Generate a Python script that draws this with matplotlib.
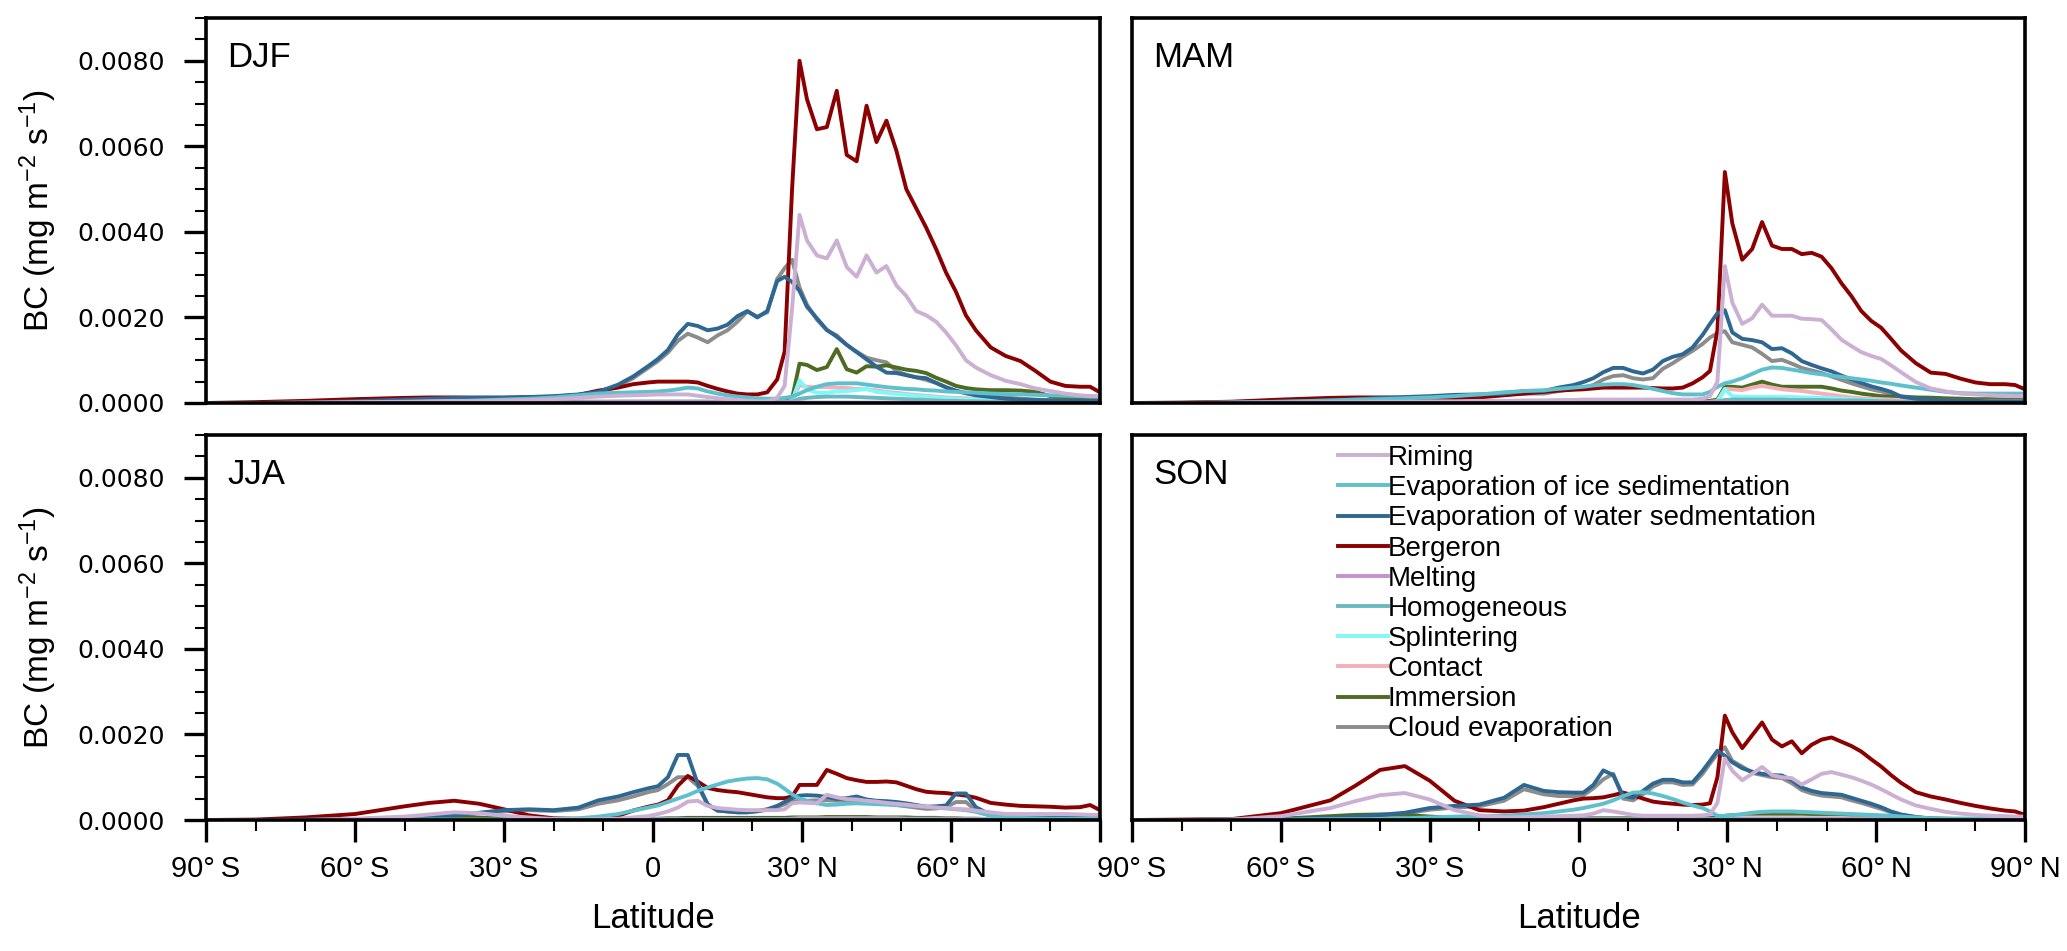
import matplotlib
matplotlib.use("Agg")
import matplotlib.pyplot as plt
from matplotlib.ticker import MultipleLocator, FormatStrFormatter

plt.rcParams["font.family"] = ["Liberation Sans", "DejaVu Sans"]
plt.rcParams["mathtext.default"] = "regular"

# latitude grid (deg), values below are in 1e-4 mg m-2 s-1
LAT = [-90, -80, -70, -60, -50, -45, -40, -35, -30, -25, -20, -15,
       -11, -7, -4, -1, 1, 3, 5, 7, 9, 11, 13, 15, 17, 19, 21, 23, 25,
       26.5, 28, 29.5,
       31, 33, 35, 37, 39, 41, 43, 45, 47, 49, 51, 53, 55, 57, 59, 61, 63, 65,
       68, 71, 74, 77, 80, 83, 86, 88, 90]

PROCESSES = ["Riming", "Evaporation of ice sedimentation",
             "Evaporation of water sedmentation", "Bergeron", "Melting",
             "Homogeneous", "Splintering", "Contact", "Immersion",
             "Cloud evaporation"]
COLORS = ["#CBB0D3", "#5EC0CD", "#2E6792", "#8B0000", "#C88FD1",
          "#6BB9C0", "#80F8F8", "#F4B0B8", "#4E6B22", "#8C8C8C"]

# ---------------- DJF ----------------
DJF_RIM = [0, 0, 0.1, 0.2, 0.3, 0.4, 0.5, 0.5, 0.6, 0.7, 0.9, 1.2,
           1.5, 1.7, 1.8, 1.9, 2.0, 2.0, 2.0, 2.0, 1.7, 1.4, 1.1, 0.9, 0.7, 0.5, 0.4, 0.4, 1.2,
           4, 22, 44,
           38, 34.5, 33.8, 38, 31.8, 29.5, 34.5, 30.5, 32, 27.5, 25, 21.5, 20.5, 19, 16.5, 13.5, 10, 8.3,
           6.5, 5.2, 4.4, 3.4, 2.8, 2.2, 1.8, 1.6, 1.6]
DJF_EVI = [0, 0, 0, 0.1, 0.2, 0.3, 0.4, 0.6, 0.8, 1.0, 1.3, 1.8,
           2.2, 2.4, 2.5, 2.6, 2.7, 2.9, 3.2, 3.6, 3.4, 2.7, 2.2, 1.8, 1.5, 1.3, 1.1, 1.0, 1.0,
           1.2, 1.5, 2.2,
           3.0, 3.8, 4.4, 4.6, 4.6, 4.6, 4.3, 4.0, 3.7, 3.5, 3.3, 3.2, 3.0, 2.9, 2.7, 2.6, 2.5, 2.4,
           2.2, 2.1, 2.0, 1.9, 1.8, 1.7, 1.6, 1.5, 1.5]
DJF_EVW = [0, 0, 0.1, 0.4, 0.8, 1.0, 1.2, 1.3, 1.3, 1.4, 1.6, 2.0,
           2.6, 4.3, 6.2, 8.6, 10.3, 12.4, 16, 18.5, 18, 17, 17.4, 18.3, 20.3, 21.5, 20.0, 21.5, 28.5,
           29.5, 28.3, 26.2,
           22.5, 19.8, 17.1, 15.5, 13.6, 11.9, 10.2, 8.5, 7.1, 7.0, 6.5, 6.0, 5.8, 4.7, 3.7, 2.9, 2.3, 1.8,
           1.4, 1.0, 0.8, 0.7, 0.6, 0.5, 0.5, 0.5, 0.5]
DJF_BERG = [0, 0.2, 0.5, 0.9, 1.2, 1.3, 1.3, 1.2, 1.2, 1.3, 1.4, 1.9,
            2.9, 3.6, 4.4, 4.8, 5.0, 5.0, 5.0, 5.0, 4.8, 4.0, 3.3, 2.7, 2.2, 2.0, 2.0, 2.5, 5.5,
            12, 50, 80,
            71, 64, 64.5, 73, 58, 56.5, 69.5, 61, 66, 59, 50, 45.5, 41, 36, 30.5, 26, 20.5, 17,
            13, 11, 9.8, 7.5, 5, 4, 3.8, 3.8, 2.5]
DJF_MLT = [0, 0, 0, 0, 0, 0, 0.1, 0.1, 0.1, 0.1, 0.1, 0.1,
           0.2, 0.2, 0.2, 0.2, 0.2, 0.2, 0.2, 0.2, 0.2, 0.2, 0.2, 0.2, 0.2, 0.2, 0.2, 0.2, 0.2,
           0.2, 0.2, 0.2,
           0.1, 0.1, 0.1, 0.1, 0.1, 0.1, 0.1, 0.1, 0.1, 0.1, 0.1, 0.1, 0.1, 0.1, 0.1, 0.1, 0.1, 0.1,
           0, 0, 0, 0, 0, 0, 0, 0, 0]
DJF_HOM = [0, 0, 0, 0, 0, 0, 0, 0, 0.1, 0.1, 0.1, 0.2,
           0.2, 0.3, 0.3, 0.3, 0.3, 0.3, 0.3, 0.3, 0.3, 0.3, 0.2, 0.2, 0.2, 0.2, 0.2, 0.2, 0.2,
           0.2, 0.4, 1.0,
           1.2, 1.4, 1.5, 1.5, 1.5, 1.4, 1.3, 1.2, 1.1, 1.0, 0.9, 0.8, 0.7, 0.6, 0.5, 0.5, 0.4, 0.4,
           0.3, 0.3, 0.3, 0.3, 0.3, 0.3, 0.3, 0.3, 0.3]
DJF_SPL = [0, 0, 0, 0, 0, 0, 0, 0, 0, 0, 0, 0,
           0, 0, 0, 0, 0, 0, 0, 0, 0, 0, 0, 0, 0, 0, 0, 0, 0,
           0, 0.5, 5.3,
           3.2, 2.4, 2.4, 2.7, 2.8, 3.0, 3.3, 2.6, 2.4, 2.1, 1.9, 1.7, 1.5, 1.3, 1.1, 1.0, 0.9, 0.8,
           0.7, 0.6, 0.5, 0.5, 0.4, 0.4, 0.4, 0.4, 0.4]
DJF_CON = [0, 0, 0, 0, 0, 0, 0.1, 0.1, 0.1, 0.1, 0.1, 0.1,
           0.1, 0.1, 0.1, 0.1, 0.1, 0.1, 0.1, 0.1, 0.1, 0.1, 0.1, 0.1, 0.1, 0.1, 0.1, 0.1, 0.1,
           0.1, 0.5, 4.2,
           3.8, 3.7, 3.7, 3.6, 3.5, 3.3, 3.2, 3.0, 2.6, 2.4, 2.1, 1.9, 1.7, 1.5, 1.3, 1.2, 1.1, 1.0,
           0.8, 0.7, 0.6, 0.5, 0.5, 0.5, 0.5, 0.5, 0.5]
DJF_IMM = [0, 0, 0, 0, 0.1, 0.1, 0.1, 0.1, 0.2, 0.2, 0.2, 0.3,
           0.3, 0.3, 0.3, 0.3, 0.3, 0.3, 0.3, 0.3, 0.3, 0.3, 0.2, 0.2, 0.2, 0.2, 0.2, 0.2, 0.2,
           0.3, 1.0, 9.2,
           8.9, 7.7, 8.4, 12.6, 7.9, 7.1, 8.6, 8.5, 8.8, 8.3, 7.8, 7.5, 7.0, 5.9, 5.0, 4.0, 3.5, 3.2,
           3.0, 3.0, 2.9, 2.6, 1.6, 1.1, 0.9, 0.8, 0.8]
DJF_CLD = [0, 0, 0.1, 0.4, 0.8, 1.0, 1.1, 1.2, 1.2, 1.3, 1.5, 1.9,
           2.4, 4.0, 5.8, 8.2, 9.8, 11.8, 14.5, 16.2, 15.3, 14.2, 15.8, 17, 19, 21.4, 20.2, 21.2, 29,
           31.5, 33.5, 27,
           23, 19.5, 17, 15.8, 13.6, 12, 10.6, 10, 9.5, 7.5, 6.6, 6.0, 5.4, 4.7, 3.6, 2.8, 2.3, 1.9,
           1.6, 1.3, 1.0, 0.8, 0.7, 0.6, 0.5, 0.5, 0.5]

# ---------------- MAM ----------------
MAM_RIM = [0, 0, 0.1, 0.1, 0.2, 0.2, 0.3, 0.3, 0.4, 0.4, 0.5, 0.5,
           0.6, 0.6, 0.7, 0.7, 0.8, 0.8, 0.8, 0.8, 0.8, 0.8, 0.8, 0.8, 0.8, 0.8, 0.8, 0.8, 1.0,
           1.6, 5, 32,
           23.5, 18.5, 19.8, 23, 20.4, 20.4, 20.4, 19.7, 19.6, 19.4, 17.2, 14.8, 13.3, 11.9, 11, 10.3, 8.8, 7.2,
           4.9, 3.4, 2.7, 2.2, 2.0, 1.8, 1.7, 1.6, 1.6]
MAM_EVI = [0, 0, 0.1, 0.3, 0.6, 0.8, 0.9, 1.1, 1.3, 1.6, 2.0, 2.5,
           2.8, 3.0, 3.3, 3.6, 3.8, 4.1, 4.3, 4.4, 4.4, 4.2, 3.8, 3.3, 2.8, 2.3, 2.0, 2.0, 2.0,
           2.6, 3.8, 4.6,
           5.0, 5.8, 6.8, 7.8, 8.3, 8.2, 7.8, 7.4, 7.0, 6.7, 6.4, 6.1, 5.8, 5.5, 5.2, 4.8, 4.5, 4.1,
           3.6, 3.1, 2.6, 2.3, 2.2, 2.2, 2.2, 2.2, 2.2]
MAM_EVW = [0, 0, 0.1, 0.3, 0.6, 0.8, 1.2, 1.4, 1.6, 1.9, 2.0, 2.2,
           2.8, 2.8, 3.6, 4.2, 4.9, 5.8, 7.2, 8.2, 8.2, 7.4, 6.9, 7.8, 9.8, 10.8, 11.4, 13, 15.9,
           18.5, 21, 21.7,
           16.5, 15, 14.7, 14.2, 12.6, 12.8, 11.6, 9.8, 8.9, 8.1, 7.4, 6.4, 5.5, 4.7, 3.9, 3.3, 2.6, 1.5,
           1.0, 0.8, 0.6, 0.5, 0.5, 0.4, 0.4, 0.4, 0.4]
MAM_BERG = [0, 0.1, 0.3, 0.8, 1.2, 1.3, 1.3, 1.2, 1.1, 1.1, 1.3, 1.8,
            2.2, 2.6, 2.9, 3.1, 3.2, 3.4, 3.6, 3.6, 3.6, 3.6, 3.6, 3.5, 3.4, 3.4, 3.6, 4.6, 6.0,
            7.5, 17, 54,
            42, 33.5, 36, 42.3, 36.8, 36, 36, 34.8, 35.1, 34.2, 31.5, 28, 25, 21.5, 19.2, 17.6, 15, 12.3,
            9.3, 7.1, 6.8, 5.7, 4.8, 4.4, 4.4, 4.2, 3.2]
MAM_MLT = [0, 0, 0, 0, 0, 0, 0.1, 0.1, 0.1, 0.1, 0.1, 0.1,
           0.2, 0.2, 0.2, 0.2, 0.2, 0.2, 0.2, 0.2, 0.2, 0.2, 0.2, 0.2, 0.2, 0.2, 0.2, 0.2, 0.2,
           0.2, 0.2, 0.2,
           0.1, 0.1, 0.1, 0.1, 0.1, 0.1, 0.1, 0.1, 0.1, 0.1, 0.1, 0.1, 0.1, 0.1, 0.1, 0.1, 0.1, 0.1,
           0, 0, 0, 0, 0, 0, 0, 0, 0]
MAM_HOM = [0, 0, 0, 0, 0, 0, 0.1, 0.1, 0.1, 0.1, 0.1, 0.1,
           0.2, 0.2, 0.2, 0.2, 0.3, 0.3, 0.3, 0.3, 0.3, 0.3, 0.3, 0.3, 0.3, 0.3, 0.3, 0.3, 0.3,
           0.3, 0.4, 0.7,
           0.8, 0.8, 0.8, 0.8, 0.8, 0.8, 0.7, 0.7, 0.7, 0.7, 0.6, 0.6, 0.6, 0.6, 0.5, 0.4, 0.4, 0.3,
           0.3, 0.3, 0.3, 0.3, 0.3, 0.3, 0.3, 0.3, 0.3]
MAM_SPL = [0, 0, 0, 0, 0, 0, 0, 0, 0, 0, 0, 0,
           0, 0, 0, 0, 0, 0, 0, 0, 0, 0, 0, 0, 0, 0, 0, 0, 0,
           0, 0.3, 3.2,
           1.6, 1.4, 1.4, 1.4, 1.4, 1.4, 1.4, 1.3, 1.3, 1.2, 1.1, 1.0, 0.9, 0.8, 0.7, 0.5, 0.4, 0.3,
           0.3, 0.2, 0.2, 0.2, 0.2, 0.2, 0.2, 0.2, 0.2]
MAM_CON = [0, 0, 0, 0, 0, 0, 0.1, 0.1, 0.1, 0.1, 0.1, 0.1,
           0.1, 0.1, 0.1, 0.1, 0.1, 0.1, 0.1, 0.1, 0.1, 0.1, 0.1, 0.1, 0.1, 0.1, 0.1, 0.1, 0.1,
           0.2, 0.5, 3.3,
           3.2, 3.0, 3.6, 4.0, 3.6, 3.2, 3.0, 2.8, 2.5, 2.2, 1.9, 1.6, 1.3, 1.1, 1.0, 0.9, 0.8, 0.7,
           0.6, 0.6, 0.5, 0.5, 0.5, 0.5, 0.5, 0.5, 0.5]
MAM_IMM = [0, 0, 0, 0.1, 0.1, 0.2, 0.2, 0.2, 0.2, 0.3, 0.3, 0.3,
           0.3, 0.3, 0.3, 0.3, 0.3, 0.3, 0.3, 0.3, 0.3, 0.3, 0.3, 0.3, 0.3, 0.3, 0.3, 0.3, 0.4,
           0.5, 0.8, 3.8,
           3.8, 3.6, 4.3, 5.0, 4.3, 3.8, 3.8, 3.8, 3.8, 3.8, 3.4, 2.9, 2.6, 2.2, 1.9, 1.6, 1.5, 1.4,
           1.3, 1.25, 1.1, 1.0, 0.9, 0.9, 0.8, 0.8, 0.8]
MAM_CLD = [0, 0, 0.1, 0.3, 0.5, 0.7, 1.0, 1.2, 1.3, 1.5, 1.6, 2.0,
           2.2, 2.2, 2.8, 3.3, 3.6, 4.2, 5.5, 6.3, 6.5, 5.8, 5.5, 5.8, 8.0, 9.3, 10.8, 12.2, 13.8,
           15.3, 16.3, 16.8,
           14.2, 13.6, 13, 11.5, 9.8, 10.1, 9.2, 8.2, 7.6, 7.0, 6.2, 5.4, 4.6, 3.9, 3.2, 2.7, 2.1, 1.6,
           1.2, 0.9, 0.7, 0.6, 0.5, 0.5, 0.5, 0.5, 0.5]

# ---------------- JJA ----------------
JJA_RIM = [0, 0, 0, 0.3, 0.8, 1.3, 1.8, 1.6, 1.0, 0.6, 0.2, 0.2,
           0.2, 0.3, 0.6, 0.9, 1.4, 2.0, 2.9, 4.3, 4.5, 3.3, 2.8, 2.6, 2.4, 2.3, 2.3, 2.3, 2.3,
           2.5, 3.9, 4.1,
           4.0, 3.9, 5.9, 5.3, 4.9, 4.8, 4.5, 4.3, 4.0, 3.8, 3.6, 3.3, 3.1, 2.9, 2.8, 2.6, 2.5, 2.2,
           1.8, 1.4, 1.4, 1.4, 1.4, 1.4, 1.3, 1.2, 1.2]
JJA_EVI = [0, 0, 0, 0.1, 0.1, 0.1, 0.1, 0.1, 0.1, 0.2, 0.3, 0.4,
           0.8, 1.4, 2.2, 2.9, 3.4, 4.2, 5.0, 5.8, 6.8, 7.6, 8.3, 9.0, 9.4, 9.7, 9.8, 9.5, 8.5,
           7.3, 6.0, 5.0,
           4.5, 3.9, 3.5, 3.6, 3.8, 3.9, 3.8, 3.7, 3.6, 3.5, 3.4, 3.3, 3.1, 2.9, 2.7, 2.5, 2.3, 1.9,
           1.0, 0.7, 0.5, 0.4, 0.3, 0.3, 0.3, 0.3, 0.3]
JJA_EVW = [0, 0, 0.1, 0.2, 0.4, 0.7, 1.1, 1.7, 2.3, 2.5, 2.3, 2.9,
           4.6, 5.5, 6.5, 7.4, 7.9, 10, 15.2, 15.2, 8.5, 3.7, 2.2, 2.0, 1.8, 1.8, 2.1, 2.5, 3.3,
           4.2, 5.1, 5.7,
           5.8, 5.7, 5.4, 4.9, 5.1, 5.5, 4.8, 4.5, 4.4, 4.2, 3.9, 3.5, 3.1, 3.2, 3.4, 6.2, 6.2, 3.0,
           1.2, 0.8, 0.6, 0.5, 0.5, 0.5, 0.5, 0.5, 0.5]
JJA_BERG = [0, 0.1, 0.6, 1.4, 3.2, 4.0, 4.5, 3.8, 2.5, 1.1, 0.4, 0.2,
            0.3, 1.0, 2.2, 3.1, 3.6, 4.6, 8.0, 10.3, 9.0, 7.5, 7.0, 6.7, 6.5, 6.1, 5.7, 5.3, 5.1,
            5.1, 5.5, 8.2,
            8.2, 8.2, 11.7, 10.8, 9.8, 9.3, 8.9, 8.9, 9.0, 8.8, 8.0, 7.2, 6.6, 6.4, 6.3, 6.0, 5.7, 5.2,
            4.0, 3.6, 3.3, 3.2, 3.1, 2.9, 3.0, 3.5, 2.3]
JJA_MLT = [0, 0, 0, 0, 0, 0, 0, 0, 0, 0, 0, 0,
           0.1, 0.1, 0.1, 0.1, 0.1, 0.1, 0.1, 0.1, 0.1, 0.1, 0.1, 0.1, 0.1, 0.1, 0.1, 0.1, 0.1,
           0.1, 0.1, 0.1,
           0.1, 0.1, 0.1, 0.1, 0.1, 0.1, 0.1, 0.1, 0.1, 0.1, 0.1, 0.1, 0.1, 0.1, 0.1, 0.1, 0.1, 0.1,
           0, 0, 0, 0, 0, 0, 0, 0, 0]
JJA_HOM = [0, 0, 0, 0, 0, 0, 0, 0, 0, 0, 0, 0,
           0.2, 0.2, 0.2, 0.2, 0.2, 0.2, 0.2, 0.2, 0.2, 0.2, 0.2, 0.2, 0.2, 0.2, 0.2, 0.2, 0.2,
           0.2, 0.2, 0.2,
           0.2, 0.2, 0.2, 0.2, 0.2, 0.2, 0.2, 0.2, 0.2, 0.2, 0.2, 0.2, 0.2, 0.2, 0.2, 0.2, 0.2, 0.2,
           0.1, 0.1, 0.1, 0.1, 0.1, 0.1, 0.1, 0.1, 0.1]
JJA_SPL = [0, 0, 0, 0, 0, 0, 0, 0, 0, 0, 0, 0,
           0.1, 0.1, 0.1, 0.1, 0.1, 0.1, 0.1, 0.1, 0.1, 0.1, 0.1, 0.1, 0.1, 0.1, 0.1, 0.1, 0.1,
           0.1, 0.1, 0.2,
           0.2, 0.2, 0.2, 0.2, 0.2, 0.2, 0.2, 0.2, 0.2, 0.2, 0.2, 0.2, 0.2, 0.2, 0.2, 0.2, 0.2, 0.2,
           0.1, 0.1, 0.1, 0.1, 0.1, 0.1, 0.1, 0.1, 0.1]
JJA_CON = [0, 0, 0, 0, 0, 0, 0, 0, 0, 0, 0, 0,
           0.1, 0.1, 0.1, 0.1, 0.1, 0.1, 0.1, 0.1, 0.1, 0.1, 0.1, 0.1, 0.1, 0.1, 0.1, 0.1, 0.1,
           0.2, 0.3, 0.4,
           0.4, 0.4, 0.4, 0.4, 0.4, 0.4, 0.4, 0.4, 0.4, 0.4, 0.3, 0.3, 0.3, 0.3, 0.3, 0.3, 0.3, 0.3,
           0.2, 0.1, 0.1, 0.1, 0.1, 0.1, 0.1, 0.1, 0.1]
JJA_IMM = [0, 0, 0.1, 0.2, 0.5, 0.5, 0.5, 0.5, 0.4, 0.3, 0.3, 0.3,
           0.3, 0.3, 0.3, 0.3, 0.3, 0.4, 0.4, 0.5, 0.5, 0.5, 0.5, 0.5, 0.5, 0.5, 0.5, 0.5, 0.5,
           0.5, 0.6, 0.6,
           0.6, 0.6, 0.7, 0.7, 0.7, 0.7, 0.7, 0.6, 0.6, 0.6, 0.6, 0.5, 0.5, 0.5, 0.4, 0.4, 0.3, 0.3,
           0.2, 0.2, 0.2, 0.1, 0.1, 0.1, 0.1, 0.1, 0.1]
JJA_CLD = [0, 0, 0.1, 0.2, 0.4, 0.6, 1.0, 1.5, 2.0, 2.3, 2.1, 2.5,
           3.8, 4.6, 5.5, 6.5, 7.0, 8.4, 10, 10, 8.0, 3.6, 2.2, 2.0, 1.8, 1.8, 2.0, 2.4, 3.0,
           3.7, 4.3, 4.5,
           4.5, 4.6, 4.6, 4.5, 4.5, 4.6, 4.3, 4.0, 3.8, 3.5, 3.2, 2.9, 2.6, 2.7, 3.0, 4.2, 4.2, 2.2,
           1.0, 0.7, 0.5, 0.5, 0.4, 0.4, 0.4, 0.4, 0.4]

# ---------------- SON ----------------
SON_RIM = [0, 0, 0.1, 0.9, 2.8, 4.4, 5.8, 6.3, 4.8, 2.3, 1.1, 0.6,
           0.7, 0.8, 0.9, 1.0, 1.1, 1.5, 2.3, 2.0, 1.6, 1.2, 1.0, 1.0, 1.0, 1.0, 1.0, 1.0, 1.1,
           1.3, 4, 14.4,
           11.5, 9.3, 10.8, 12.4, 10.5, 10, 9.8, 8.3, 9.5, 10.8, 11.2, 10.6, 10.0, 9.2, 8.3, 7.2, 6.0, 4.8,
           3.4, 2.6, 1.9, 1.5, 1.2, 1.0, 0.9, 0.8, 0.8]
SON_EVI = [0, 0, 0.1, 0.1, 0.2, 0.2, 0.2, 0.4, 0.6, 0.8, 0.9, 1.0,
           1.3, 1.6, 2.0, 2.4, 2.8, 3.3, 3.8, 4.6, 5.6, 6.4, 6.5, 6.2, 5.6, 4.9, 4.1, 3.4, 2.8,
           2.0, 1.0, 0.9,
           1.1, 1.4, 1.7, 1.9, 2.0, 2.0, 2.0, 1.9, 1.8, 1.7, 1.6, 1.5, 1.4, 1.3, 1.2, 1.1, 1.0, 0.8,
           0.6, 0.4, 0.3, 0.3, 0.3, 0.3, 0.3, 0.3, 0.3]
SON_EVW = [0, 0, 0.1, 0.2, 0.5, 0.8, 1.2, 1.7, 2.8, 3.3, 3.6, 5.2,
           8.2, 6.8, 6.5, 6.4, 6.4, 8.2, 11.6, 10.5, 5.6, 5.2, 6.8, 8.5, 9.4, 9.4, 8.8, 8.8, 11.5,
           13.8, 16.2, 15,
           13.5, 12.1, 11.3, 10.8, 10.5, 10.4, 9.3, 7.6, 6.8, 6.3, 6.1, 5.9, 5.2, 4.5, 3.8, 3.0, 2.0, 1.3,
           0.7, 0.3, 0.2, 0.2, 0.2, 0.2, 0.2, 0.2, 0.2]
SON_BERG = [0, 0.1, 0.2, 1.6, 4.6, 8, 11.7, 12.6, 9.2, 4.5, 2.3, 2.0,
            2.2, 3.0, 3.8, 4.6, 5.0, 5.1, 5.3, 5.8, 6.4, 5.8, 5.0, 4.3, 4.0, 3.8, 3.6, 3.5, 3.6,
            3.9, 10, 24.4,
            20.5, 16.8, 19.8, 22.8, 18.8, 17.2, 18.4, 15.6, 17.6, 18.8, 19.3, 18.3, 17.3, 16.0, 14.2, 12.5, 10.5, 8.7,
            6.5, 5.5, 4.8, 4.0, 3.3, 2.7, 2.2, 2.0, 1.2]
SON_MLT = [0, 0, 0, 0, 0, 0, 0, 0, 0, 0, 0, 0,
           0.1, 0.1, 0.1, 0.1, 0.1, 0.1, 0.1, 0.1, 0.1, 0.1, 0.1, 0.1, 0.1, 0.1, 0.1, 0.1, 0.1,
           0.1, 0.1, 0.1,
           0.1, 0.1, 0.1, 0.1, 0.1, 0.1, 0.1, 0.1, 0.1, 0.1, 0.1, 0.1, 0.1, 0.1, 0.1, 0.1, 0.1, 0.1,
           0, 0, 0, 0, 0, 0, 0, 0, 0]
SON_HOM = [0, 0, 0, 0, 0, 0, 0, 0, 0, 0, 0, 0,
           0.2, 0.2, 0.2, 0.2, 0.2, 0.2, 0.2, 0.2, 0.2, 0.2, 0.2, 0.2, 0.2, 0.2, 0.2, 0.2, 0.2,
           0.2, 0.2, 0.2,
           0.2, 0.2, 0.2, 0.2, 0.2, 0.2, 0.2, 0.2, 0.2, 0.2, 0.2, 0.2, 0.2, 0.2, 0.2, 0.2, 0.2, 0.2,
           0.1, 0.1, 0.1, 0.1, 0.1, 0.1, 0.1, 0.1, 0.1]
SON_SPL = [0, 0, 0, 0, 0, 0, 0, 0, 0, 0, 0, 0,
           0.1, 0.1, 0.1, 0.1, 0.1, 0.1, 0.1, 0.1, 0.1, 0.1, 0.1, 0.1, 0.1, 0.1, 0.1, 0.1, 0.1,
           0.1, 0.2, 1.0,
           0.3, 0.3, 0.3, 0.3, 0.3, 0.3, 0.3, 0.3, 0.3, 0.2, 0.2, 0.2, 0.2, 0.2, 0.2, 0.2, 0.2, 0.2,
           0.1, 0.1, 0.1, 0.1, 0.1, 0.1, 0.1, 0.1, 0.1]
SON_CON = [0, 0, 0, 0, 0.1, 0.1, 0.1, 0.1, 0.1, 0.1, 0.1, 0.1,
           0.1, 0.1, 0.1, 0.1, 0.1, 0.1, 0.1, 0.1, 0.1, 0.1, 0.1, 0.1, 0.1, 0.1, 0.1, 0.1, 0.1,
           0.1, 0.2, 0.5,
           0.6, 0.6, 0.6, 0.6, 0.6, 0.6, 0.6, 0.6, 0.5, 0.5, 0.5, 0.5, 0.4, 0.4, 0.4, 0.3, 0.3, 0.3,
           0.2, 0.1, 0.1, 0.1, 0.1, 0.1, 0.1, 0.1, 0.1]
SON_IMM = [0, 0, 0.1, 0.3, 0.9, 1.2, 1.3, 1.2, 0.8, 0.5, 0.4, 0.4,
           0.4, 0.4, 0.4, 0.4, 0.4, 0.4, 0.4, 0.4, 0.4, 0.4, 0.4, 0.4, 0.4, 0.4, 0.4, 0.4, 0.4,
           0.5, 0.6, 1.0,
           1.1, 1.2, 1.3, 1.4, 1.3, 1.2, 1.2, 1.1, 1.1, 1.0, 1.0, 0.9, 0.8, 0.8, 0.7, 0.7, 0.6, 0.5,
           0.4, 0.3, 0.3, 0.2, 0.2, 0.2, 0.2, 0.2, 0.2]
SON_CLD = [0, 0, 0.1, 0.2, 0.5, 0.7, 1.1, 1.5, 2.4, 2.9, 3.2, 4.5,
           7.2, 6.0, 5.6, 5.6, 5.8, 7.4, 9.5, 10.8, 5.0, 4.6, 6.0, 7.8, 8.8, 8.8, 8.2, 8.3, 10.8,
           13.2, 15.5, 17,
           13.8, 12.5, 11.0, 10.5, 10.0, 9.8, 8.6, 7.0, 6.2, 5.7, 5.5, 5.3, 4.6, 4.0, 3.3, 2.6, 1.8, 1.2,
           0.7, 0.4, 0.3, 0.3, 0.3, 0.3, 0.3, 0.3, 0.3]

SEASONS = [
    ("DJF", [DJF_RIM, DJF_EVI, DJF_EVW, DJF_BERG, DJF_MLT, DJF_HOM, DJF_SPL, DJF_CON, DJF_IMM, DJF_CLD]),
    ("MAM", [MAM_RIM, MAM_EVI, MAM_EVW, MAM_BERG, MAM_MLT, MAM_HOM, MAM_SPL, MAM_CON, MAM_IMM, MAM_CLD]),
    ("JJA", [JJA_RIM, JJA_EVI, JJA_EVW, JJA_BERG, JJA_MLT, JJA_HOM, JJA_SPL, JJA_CON, JJA_IMM, JJA_CLD]),
    ("SON", [SON_RIM, SON_EVI, SON_EVW, SON_BERG, SON_MLT, SON_HOM, SON_SPL, SON_CON, SON_IMM, SON_CLD]),
]

XTICKS = [-90, -60, -30, 0, 30, 60, 90]
XLABELS = ["90°\u2009S", "60°\u2009S", "30°\u2009S", "0", "30°\u2009N", "60°\u2009N", "90°\u2009N"]

W, H = 2067, 951


def box(l, t, r, b):
    return [l / W, 1 - b / H, (r - l) / W, (b - t) / H]


fig = plt.figure(figsize=(W / 100, H / 100), dpi=100)
positions = [box(206, 18, 1100, 403), box(1132, 18, 2025, 403),
             box(206, 435, 1100, 820), box(1132, 435, 2025, 820)]

legend_lines = None
for k, (season, series) in enumerate(SEASONS):
    ax = fig.add_axes(positions[k])
    lines = [None] * len(series)
    # draw in reverse so Riming ends up on top
    for i in reversed(range(len(series))):
        vals = series[i]
        assert len(vals) == len(LAT), (season, PROCESSES[i], len(vals))
        lines[i], = ax.plot(LAT, [v * 1e-4 for v in vals], color=COLORS[i],
                            lw=2.8, label=PROCESSES[i])
    if season == "SON":
        legend_lines = (ax, lines)

    ax.set_xlim(-90, 90)
    ax.set_ylim(0, 0.009)
    for s in ax.spines.values():
        s.set_linewidth(2.6)

    left = k % 2 == 0
    bottom = k >= 2

    ax.yaxis.set_major_locator(MultipleLocator(0.002))
    ax.yaxis.set_minor_locator(MultipleLocator(0.0005))
    ax.yaxis.set_major_formatter(FormatStrFormatter("%.4f"))
    if left:
        ax.tick_params(axis="y", which="major", direction="out", length=15.5,
                       width=2.4, pad=14, labelsize=18)
        ax.tick_params(axis="y", which="minor", direction="out", length=8,
                       width=1.5)
        ax.set_yticks([0, 0.002, 0.004, 0.006, 0.008])
        for t in ax.get_yticklabels():
            t.set_fontfamily("DejaVu Sans")
    else:
        ax.tick_params(axis="y", which="both", length=0, labelleft=False)

    ax.set_xticks(XTICKS)
    ax.xaxis.set_minor_locator(MultipleLocator(10))
    if bottom:
        labels = list(XLABELS)
        if left:
            labels[-1] = ""  # left panel drops its 90N label, as in the original
        ax.set_xticklabels(labels)
        ax.tick_params(axis="x", which="major", direction="out", length=16,
                       width=2.4, pad=9, labelsize=21)
        ax.tick_params(axis="x", which="minor", direction="out", length=8,
                       width=1.5)
        fig.text((positions[k][0] + positions[k][2] / 2), 1 - 918 / H,
                 "Latitude", ha="center", va="center", fontsize=25)
    else:
        ax.tick_params(axis="x", which="both", length=0, labelbottom=False)

    if left:
        fig.text(38 / W, positions[k][1] + positions[k][3] / 2,
                 "BC (mg m$^{-2}$ s$^{-1}$)", rotation=90,
                 ha="center", va="center", fontsize=24)

    ax.text(0.024, 0.897, season, transform=ax.transAxes, fontsize=25,
            ha="left", va="center")

ax, lines = legend_lines
ax.legend(lines, PROCESSES, loc="upper left",
          bbox_to_anchor=(1338 / W, 1 - 445 / H), bbox_transform=fig.transFigure,
          frameon=False, fontsize=20, handlelength=1.8, handletextpad=0.0,
          labelspacing=0.15, borderpad=0, borderaxespad=0)

fig.savefig("out.png", dpi=100)
